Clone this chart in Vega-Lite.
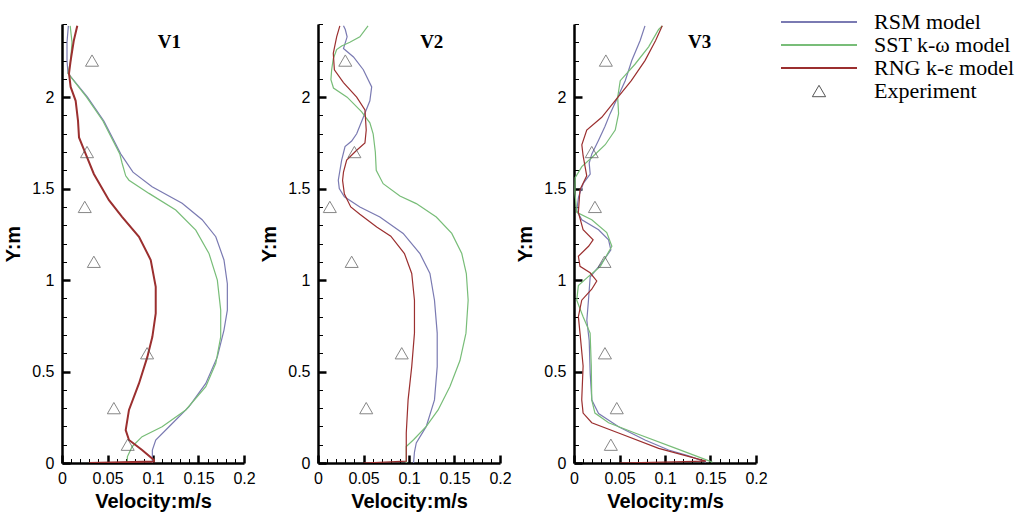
{
  "$schema": "https://vega.github.io/schema/vega-lite/v6.json",
  "background": "white",
  "padding": {"left": 3, "top": 12, "right": 5, "bottom": 5},
  "spacing": 3,
  "config": {"view": {"stroke": null}, "axis": {"grid": false}},
  "datasets": {
    "curves": [
      {"panel":"V1","model":"RSM model","x":0.0993,"y":0},
      {"panel":"V1","model":"RSM model","x":0.0993,"y":0.071},
      {"panel":"V1","model":"RSM model","x":0.103,"y":0.126},
      {"panel":"V1","model":"RSM model","x":0.1176,"y":0.198},
      {"panel":"V1","model":"RSM model","x":0.1396,"y":0.308},
      {"panel":"V1","model":"RSM model","x":0.158,"y":0.435},
      {"panel":"V1","model":"RSM model","x":0.1707,"y":0.58},
      {"panel":"V1","model":"RSM model","x":0.178,"y":0.727},
      {"panel":"V1","model":"RSM model","x":0.1817,"y":0.836},
      {"panel":"V1","model":"RSM model","x":0.1817,"y":0.98},
      {"panel":"V1","model":"RSM model","x":0.178,"y":1.11},
      {"panel":"V1","model":"RSM model","x":0.169,"y":1.237},
      {"panel":"V1","model":"RSM model","x":0.154,"y":1.33},
      {"panel":"V1","model":"RSM model","x":0.132,"y":1.42},
      {"panel":"V1","model":"RSM model","x":0.099,"y":1.51},
      {"panel":"V1","model":"RSM model","x":0.078,"y":1.59},
      {"panel":"V1","model":"RSM model","x":0.0645,"y":1.69},
      {"panel":"V1","model":"RSM model","x":0.046,"y":1.87},
      {"panel":"V1","model":"RSM model","x":0.028,"y":2.0},
      {"panel":"V1","model":"RSM model","x":0.0066,"y":2.13},
      {"panel":"V1","model":"RSM model","x":0.0055,"y":2.2},
      {"panel":"V1","model":"RSM model","x":0.0055,"y":2.3},
      {"panel":"V1","model":"RSM model","x":0.007,"y":2.39},
      {"panel":"V1","model":"SST k-ω model","x":0.0718,"y":0},
      {"panel":"V1","model":"SST k-ω model","x":0.0718,"y":0.034},
      {"panel":"V1","model":"SST k-ω model","x":0.077,"y":0.089},
      {"panel":"V1","model":"SST k-ω model","x":0.088,"y":0.144},
      {"panel":"V1","model":"SST k-ω model","x":0.11,"y":0.198},
      {"panel":"V1","model":"SST k-ω model","x":0.136,"y":0.29},
      {"panel":"V1","model":"SST k-ω model","x":0.158,"y":0.417},
      {"panel":"V1","model":"SST k-ω model","x":0.169,"y":0.545},
      {"panel":"V1","model":"SST k-ω model","x":0.1744,"y":0.69},
      {"panel":"V1","model":"SST k-ω model","x":0.1744,"y":0.836},
      {"panel":"V1","model":"SST k-ω model","x":0.1707,"y":1.0},
      {"panel":"V1","model":"SST k-ω model","x":0.1615,"y":1.146},
      {"panel":"V1","model":"SST k-ω model","x":0.147,"y":1.273},
      {"panel":"V1","model":"SST k-ω model","x":0.125,"y":1.383},
      {"panel":"V1","model":"SST k-ω model","x":0.0956,"y":1.474},
      {"panel":"V1","model":"SST k-ω model","x":0.0736,"y":1.546},
      {"panel":"V1","model":"SST k-ω model","x":0.07,"y":1.57},
      {"panel":"V1","model":"SST k-ω model","x":0.066,"y":1.64},
      {"panel":"V1","model":"SST k-ω model","x":0.0635,"y":1.69},
      {"panel":"V1","model":"SST k-ω model","x":0.045,"y":1.87},
      {"panel":"V1","model":"SST k-ω model","x":0.027,"y":2.0},
      {"panel":"V1","model":"SST k-ω model","x":0.0066,"y":2.13},
      {"panel":"V1","model":"SST k-ω model","x":0.0095,"y":2.2},
      {"panel":"V1","model":"SST k-ω model","x":0.011,"y":2.3},
      {"panel":"V1","model":"SST k-ω model","x":0.009,"y":2.39},
      {"panel":"V1","model":"RNG k-ε model","x":0.03,"y":0},
      {"panel":"V1","model":"RNG k-ε model","x":0.101,"y":0.008},
      {"panel":"V1","model":"RNG k-ε model","x":0.101,"y":0.016},
      {"panel":"V1","model":"RNG k-ε model","x":0.088,"y":0.071},
      {"panel":"V1","model":"RNG k-ε model","x":0.0736,"y":0.126},
      {"panel":"V1","model":"RNG k-ε model","x":0.07,"y":0.18},
      {"panel":"V1","model":"RNG k-ε model","x":0.0736,"y":0.29},
      {"panel":"V1","model":"RNG k-ε model","x":0.0846,"y":0.435},
      {"panel":"V1","model":"RNG k-ε model","x":0.0938,"y":0.58},
      {"panel":"V1","model":"RNG k-ε model","x":0.0993,"y":0.69},
      {"panel":"V1","model":"RNG k-ε model","x":0.103,"y":0.818},
      {"panel":"V1","model":"RNG k-ε model","x":0.103,"y":0.963},
      {"panel":"V1","model":"RNG k-ε model","x":0.0975,"y":1.11},
      {"panel":"V1","model":"RNG k-ε model","x":0.0846,"y":1.237},
      {"panel":"V1","model":"RNG k-ε model","x":0.066,"y":1.346},
      {"panel":"V1","model":"RNG k-ε model","x":0.0516,"y":1.437},
      {"panel":"V1","model":"RNG k-ε model","x":0.035,"y":1.58},
      {"panel":"V1","model":"RNG k-ε model","x":0.026,"y":1.69},
      {"panel":"V1","model":"RNG k-ε model","x":0.0187,"y":1.78},
      {"panel":"V1","model":"RNG k-ε model","x":0.0176,"y":1.87},
      {"panel":"V1","model":"RNG k-ε model","x":0.015,"y":1.98},
      {"panel":"V1","model":"RNG k-ε model","x":0.0095,"y":2.056},
      {"panel":"V1","model":"RNG k-ε model","x":0.0077,"y":2.13},
      {"panel":"V1","model":"RNG k-ε model","x":0.0095,"y":2.2},
      {"panel":"V1","model":"RNG k-ε model","x":0.013,"y":2.31},
      {"panel":"V1","model":"RNG k-ε model","x":0.0168,"y":2.39},

      {"panel":"V2","model":"RSM model","x":0.105,"y":0},
      {"panel":"V2","model":"RSM model","x":0.106,"y":0.06},
      {"panel":"V2","model":"RSM model","x":0.108,"y":0.11},
      {"panel":"V2","model":"RSM model","x":0.119,"y":0.2},
      {"panel":"V2","model":"RSM model","x":0.128,"y":0.345},
      {"panel":"V2","model":"RSM model","x":0.131,"y":0.527},
      {"panel":"V2","model":"RSM model","x":0.131,"y":0.71},
      {"panel":"V2","model":"RSM model","x":0.128,"y":0.89},
      {"panel":"V2","model":"RSM model","x":0.123,"y":1.036},
      {"panel":"V2","model":"RSM model","x":0.112,"y":1.145},
      {"panel":"V2","model":"RSM model","x":0.0936,"y":1.255},
      {"panel":"V2","model":"RSM model","x":0.068,"y":1.345},
      {"panel":"V2","model":"RSM model","x":0.046,"y":1.4},
      {"panel":"V2","model":"RSM model","x":0.029,"y":1.455},
      {"panel":"V2","model":"RSM model","x":0.0234,"y":1.5},
      {"panel":"V2","model":"RSM model","x":0.0223,"y":1.546},
      {"panel":"V2","model":"RSM model","x":0.026,"y":1.656},
      {"panel":"V2","model":"RSM model","x":0.0297,"y":1.73},
      {"panel":"V2","model":"RSM model","x":0.037,"y":1.76},
      {"panel":"V2","model":"RSM model","x":0.0425,"y":1.8},
      {"panel":"V2","model":"RSM model","x":0.0498,"y":1.89},
      {"panel":"V2","model":"RSM model","x":0.057,"y":1.98},
      {"panel":"V2","model":"RSM model","x":0.059,"y":2.056},
      {"panel":"V2","model":"RSM model","x":0.0498,"y":2.15},
      {"panel":"V2","model":"RSM model","x":0.039,"y":2.22},
      {"panel":"V2","model":"RSM model","x":0.028,"y":2.266},
      {"panel":"V2","model":"RSM model","x":0.032,"y":2.33},
      {"panel":"V2","model":"RSM model","x":0.03,"y":2.37},
      {"panel":"V2","model":"RSM model","x":0.028,"y":2.39},
      {"panel":"V2","model":"SST k-ω model","x":0.097,"y":0},
      {"panel":"V2","model":"SST k-ω model","x":0.097,"y":0.09},
      {"panel":"V2","model":"SST k-ω model","x":0.105,"y":0.127},
      {"panel":"V2","model":"SST k-ω model","x":0.119,"y":0.2},
      {"panel":"V2","model":"SST k-ω model","x":0.132,"y":0.29},
      {"panel":"V2","model":"SST k-ω model","x":0.145,"y":0.418},
      {"panel":"V2","model":"SST k-ω model","x":0.156,"y":0.56},
      {"panel":"V2","model":"SST k-ω model","x":0.1626,"y":0.71},
      {"panel":"V2","model":"SST k-ω model","x":0.165,"y":0.89},
      {"panel":"V2","model":"SST k-ω model","x":0.163,"y":1.036},
      {"panel":"V2","model":"SST k-ω model","x":0.158,"y":1.145},
      {"panel":"V2","model":"SST k-ω model","x":0.147,"y":1.255},
      {"panel":"V2","model":"SST k-ω model","x":0.13,"y":1.345},
      {"panel":"V2","model":"SST k-ω model","x":0.108,"y":1.418},
      {"panel":"V2","model":"SST k-ω model","x":0.09,"y":1.46},
      {"panel":"V2","model":"SST k-ω model","x":0.0716,"y":1.527},
      {"panel":"V2","model":"SST k-ω model","x":0.064,"y":1.6},
      {"panel":"V2","model":"SST k-ω model","x":0.063,"y":1.7},
      {"panel":"V2","model":"SST k-ω model","x":0.0606,"y":1.8},
      {"panel":"V2","model":"SST k-ω model","x":0.057,"y":1.86},
      {"panel":"V2","model":"SST k-ω model","x":0.048,"y":1.92},
      {"panel":"V2","model":"SST k-ω model","x":0.032,"y":2.0},
      {"panel":"V2","model":"SST k-ω model","x":0.017,"y":2.05},
      {"panel":"V2","model":"SST k-ω model","x":0.0142,"y":2.095},
      {"panel":"V2","model":"SST k-ω model","x":0.015,"y":2.15},
      {"panel":"V2","model":"SST k-ω model","x":0.0168,"y":2.21},
      {"panel":"V2","model":"SST k-ω model","x":0.0205,"y":2.26},
      {"panel":"V2","model":"SST k-ω model","x":0.026,"y":2.28},
      {"panel":"V2","model":"SST k-ω model","x":0.035,"y":2.3},
      {"panel":"V2","model":"SST k-ω model","x":0.046,"y":2.33},
      {"panel":"V2","model":"SST k-ω model","x":0.055,"y":2.39},
      {"panel":"V2","model":"RNG k-ε model","x":0.05,"y":0},
      {"panel":"V2","model":"RNG k-ε model","x":0.097,"y":0.01},
      {"panel":"V2","model":"RNG k-ε model","x":0.097,"y":0.164},
      {"panel":"V2","model":"RNG k-ε model","x":0.099,"y":0.345},
      {"panel":"V2","model":"RNG k-ε model","x":0.103,"y":0.527},
      {"panel":"V2","model":"RNG k-ε model","x":0.106,"y":0.71},
      {"panel":"V2","model":"RNG k-ε model","x":0.106,"y":0.89},
      {"panel":"V2","model":"RNG k-ε model","x":0.103,"y":1.036},
      {"panel":"V2","model":"RNG k-ε model","x":0.095,"y":1.145},
      {"panel":"V2","model":"RNG k-ε model","x":0.08,"y":1.24},
      {"panel":"V2","model":"RNG k-ε model","x":0.0645,"y":1.29},
      {"panel":"V2","model":"RNG k-ε model","x":0.046,"y":1.36},
      {"panel":"V2","model":"RNG k-ε model","x":0.036,"y":1.4},
      {"panel":"V2","model":"RNG k-ε model","x":0.029,"y":1.47},
      {"panel":"V2","model":"RNG k-ε model","x":0.027,"y":1.545},
      {"panel":"V2","model":"RNG k-ε model","x":0.028,"y":1.59},
      {"panel":"V2","model":"RNG k-ε model","x":0.0315,"y":1.656},
      {"panel":"V2","model":"RNG k-ε model","x":0.0425,"y":1.71},
      {"panel":"V2","model":"RNG k-ε model","x":0.0516,"y":1.75},
      {"panel":"V2","model":"RNG k-ε model","x":0.053,"y":1.82},
      {"panel":"V2","model":"RNG k-ε model","x":0.0516,"y":1.93},
      {"panel":"V2","model":"RNG k-ε model","x":0.0425,"y":2.0},
      {"panel":"V2","model":"RNG k-ε model","x":0.028,"y":2.08},
      {"panel":"V2","model":"RNG k-ε model","x":0.018,"y":2.15},
      {"panel":"V2","model":"RNG k-ε model","x":0.0168,"y":2.24},
      {"panel":"V2","model":"RNG k-ε model","x":0.0205,"y":2.33},
      {"panel":"V2","model":"RNG k-ε model","x":0.024,"y":2.39},

      {"panel":"V3","model":"RSM model","x":0.145,"y":0.005},
      {"panel":"V3","model":"RSM model","x":0.125,"y":0.04},
      {"panel":"V3","model":"RSM model","x":0.104,"y":0.071},
      {"panel":"V3","model":"RSM model","x":0.078,"y":0.126},
      {"panel":"V3","model":"RSM model","x":0.049,"y":0.198},
      {"panel":"V3","model":"RSM model","x":0.027,"y":0.27},
      {"panel":"V3","model":"RSM model","x":0.0196,"y":0.344},
      {"panel":"V3","model":"RSM model","x":0.0178,"y":0.49},
      {"panel":"V3","model":"RSM model","x":0.0167,"y":0.67},
      {"panel":"V3","model":"RSM model","x":0.0141,"y":0.78},
      {"panel":"V3","model":"RSM model","x":0.0159,"y":0.89},
      {"panel":"V3","model":"RSM model","x":0.0178,"y":1.018},
      {"panel":"V3","model":"RSM model","x":0.03,"y":1.09},
      {"panel":"V3","model":"RSM model","x":0.0405,"y":1.165},
      {"panel":"V3","model":"RSM model","x":0.038,"y":1.22},
      {"panel":"V3","model":"RSM model","x":0.027,"y":1.275},
      {"panel":"V3","model":"RSM model","x":0.0086,"y":1.33},
      {"panel":"V3","model":"RSM model","x":0.003,"y":1.38},
      {"panel":"V3","model":"RSM model","x":0.005,"y":1.455},
      {"panel":"V3","model":"RSM model","x":0.0104,"y":1.53},
      {"panel":"V3","model":"RSM model","x":0.0178,"y":1.58},
      {"panel":"V3","model":"RSM model","x":0.0167,"y":1.64},
      {"panel":"V3","model":"RSM model","x":0.0196,"y":1.69},
      {"panel":"V3","model":"RSM model","x":0.027,"y":1.765},
      {"panel":"V3","model":"RSM model","x":0.034,"y":1.84},
      {"panel":"V3","model":"RSM model","x":0.0397,"y":1.91},
      {"panel":"V3","model":"RSM model","x":0.048,"y":2.0},
      {"panel":"V3","model":"RSM model","x":0.0563,"y":2.09},
      {"panel":"V3","model":"RSM model","x":0.0635,"y":2.2},
      {"panel":"V3","model":"RSM model","x":0.0727,"y":2.31},
      {"panel":"V3","model":"RSM model","x":0.078,"y":2.39},
      {"panel":"V3","model":"SST k-ω model","x":0.152,"y":0.005},
      {"panel":"V3","model":"SST k-ω model","x":0.112,"y":0.08},
      {"panel":"V3","model":"SST k-ω model","x":0.067,"y":0.164},
      {"panel":"V3","model":"SST k-ω model","x":0.038,"y":0.22},
      {"panel":"V3","model":"SST k-ω model","x":0.023,"y":0.273},
      {"panel":"V3","model":"SST k-ω model","x":0.0195,"y":0.345},
      {"panel":"V3","model":"SST k-ω model","x":0.019,"y":0.53},
      {"panel":"V3","model":"SST k-ω model","x":0.0177,"y":0.71},
      {"panel":"V3","model":"SST k-ω model","x":0.01,"y":0.8},
      {"panel":"V3","model":"SST k-ω model","x":0.003,"y":0.89},
      {"panel":"V3","model":"SST k-ω model","x":0.0048,"y":0.97},
      {"panel":"V3","model":"SST k-ω model","x":0.016,"y":1.02},
      {"panel":"V3","model":"SST k-ω model","x":0.029,"y":1.075},
      {"panel":"V3","model":"SST k-ω model","x":0.0416,"y":1.185},
      {"panel":"V3","model":"SST k-ω model","x":0.036,"y":1.26},
      {"panel":"V3","model":"SST k-ω model","x":0.0195,"y":1.33},
      {"panel":"V3","model":"SST k-ω model","x":0.003,"y":1.37},
      {"panel":"V3","model":"SST k-ω model","x":0.001,"y":1.48},
      {"panel":"V3","model":"SST k-ω model","x":0.0013,"y":1.56},
      {"panel":"V3","model":"SST k-ω model","x":0.0086,"y":1.62},
      {"panel":"V3","model":"SST k-ω model","x":0.0196,"y":1.67},
      {"panel":"V3","model":"SST k-ω model","x":0.0343,"y":1.74},
      {"panel":"V3","model":"SST k-ω model","x":0.0453,"y":1.82},
      {"panel":"V3","model":"SST k-ω model","x":0.049,"y":1.91},
      {"panel":"V3","model":"SST k-ω model","x":0.048,"y":2.0},
      {"panel":"V3","model":"SST k-ω model","x":0.0508,"y":2.09},
      {"panel":"V3","model":"SST k-ω model","x":0.067,"y":2.18},
      {"panel":"V3","model":"SST k-ω model","x":0.082,"y":2.275},
      {"panel":"V3","model":"SST k-ω model","x":0.093,"y":2.37},
      {"panel":"V3","model":"SST k-ω model","x":0.097,"y":2.39},
      {"panel":"V3","model":"RNG k-ε model","x":0.05,"y":0},
      {"panel":"V3","model":"RNG k-ε model","x":0.145,"y":0.01},
      {"panel":"V3","model":"RNG k-ε model","x":0.093,"y":0.08},
      {"panel":"V3","model":"RNG k-ε model","x":0.049,"y":0.164},
      {"panel":"V3","model":"RNG k-ε model","x":0.0195,"y":0.22},
      {"panel":"V3","model":"RNG k-ε model","x":0.01,"y":0.273},
      {"panel":"V3","model":"RNG k-ε model","x":0.0085,"y":0.345},
      {"panel":"V3","model":"RNG k-ε model","x":0.01,"y":0.53},
      {"panel":"V3","model":"RNG k-ε model","x":0.0066,"y":0.71},
      {"panel":"V3","model":"RNG k-ε model","x":0.0048,"y":0.8},
      {"panel":"V3","model":"RNG k-ε model","x":0.0085,"y":0.89},
      {"panel":"V3","model":"RNG k-ε model","x":0.0195,"y":0.95},
      {"panel":"V3","model":"RNG k-ε model","x":0.025,"y":0.995},
      {"panel":"V3","model":"RNG k-ε model","x":0.0177,"y":1.04},
      {"panel":"V3","model":"RNG k-ε model","x":0.0066,"y":1.075},
      {"panel":"V3","model":"RNG k-ε model","x":0.0048,"y":1.13},
      {"panel":"V3","model":"RNG k-ε model","x":0.016,"y":1.185},
      {"panel":"V3","model":"RNG k-ε model","x":0.021,"y":1.22},
      {"panel":"V3","model":"RNG k-ε model","x":0.01,"y":1.275},
      {"panel":"V3","model":"RNG k-ε model","x":0.0048,"y":1.37},
      {"panel":"V3","model":"RNG k-ε model","x":0.0066,"y":1.495},
      {"panel":"V3","model":"RNG k-ε model","x":0.014,"y":1.57},
      {"panel":"V3","model":"RNG k-ε model","x":0.01,"y":1.68},
      {"panel":"V3","model":"RNG k-ε model","x":0.0086,"y":1.74},
      {"panel":"V3","model":"RNG k-ε model","x":0.014,"y":1.82},
      {"panel":"V3","model":"RNG k-ε model","x":0.0305,"y":1.89},
      {"panel":"V3","model":"RNG k-ε model","x":0.045,"y":1.98},
      {"panel":"V3","model":"RNG k-ε model","x":0.063,"y":2.09},
      {"panel":"V3","model":"RNG k-ε model","x":0.078,"y":2.2},
      {"panel":"V3","model":"RNG k-ε model","x":0.0897,"y":2.31},
      {"panel":"V3","model":"RNG k-ε model","x":0.097,"y":2.39}
    ],
    "exp": [
      {"panel":"V1","model":"Experiment","x":0.033,"y":2.2},
      {"panel":"V1","model":"Experiment","x":0.0275,"y":1.7},
      {"panel":"V1","model":"Experiment","x":0.025,"y":1.4},
      {"panel":"V1","model":"Experiment","x":0.035,"y":1.1},
      {"panel":"V1","model":"Experiment","x":0.0935,"y":0.6},
      {"panel":"V1","model":"Experiment","x":0.057,"y":0.3},
      {"panel":"V1","model":"Experiment","x":0.0722,"y":0.1},
      {"panel":"V2","model":"Experiment","x":0.03,"y":2.2},
      {"panel":"V2","model":"Experiment","x":0.04,"y":1.7},
      {"panel":"V2","model":"Experiment","x":0.013,"y":1.4},
      {"panel":"V2","model":"Experiment","x":0.037,"y":1.1},
      {"panel":"V2","model":"Experiment","x":0.092,"y":0.6},
      {"panel":"V2","model":"Experiment","x":0.053,"y":0.3},
      {"panel":"V3","model":"Experiment","x":0.035,"y":2.2},
      {"panel":"V3","model":"Experiment","x":0.0195,"y":1.7},
      {"panel":"V3","model":"Experiment","x":0.023,"y":1.4},
      {"panel":"V3","model":"Experiment","x":0.0335,"y":1.1},
      {"panel":"V3","model":"Experiment","x":0.034,"y":0.6},
      {"panel":"V3","model":"Experiment","x":0.047,"y":0.3},
      {"panel":"V3","model":"Experiment","x":0.0405,"y":0.1}
    ],
    "labels": [
      {"panel":"V1","x":0.118,"y":2.3,"text":"V1"},
      {"panel":"V2","x":0.125,"y":2.3,"text":"V2"},
      {"panel":"V3","x":0.138,"y":2.3,"text":"V3"}
    ]
  },
  "hconcat": [
    {
      "width": 182, "height": 439,
      "layer": [
        {
          "data": {"name": "curves"},
          "transform": [{"filter": "datum.panel === 'V1'"}],
          "mark": {"type": "line", "clip": true},
          "encoding": {
            "x": {"field": "x", "type": "quantitative", "scale": {"domain": [0, 0.2], "nice": false},
              "axis": {"orient": "bottom", "values": [0, 0.05, 0.1, 0.15, 0.2], "format": "~g", "tickSize": -8, "tickWidth": 2.5, "tickColor": "black", "domainWidth": 2.5, "domainColor": "black", "labelPadding": 15, "labelFont": "Liberation Sans", "labelFontSize": 16, "labelColor": "black", "labelFlush": false, "labelOverlap": false, "title": "Velocity:m/s", "titleFont": "Liberation Sans", "titleFontSize": 20, "titleFontWeight": "bold", "titleColor": "black", "titlePadding": 5, "grid": false}},
            "y": {"field": "y", "type": "quantitative", "scale": {"domain": [0, 2.4], "nice": false},
              "axis": {"orient": "left", "values": [0, 0.5, 1, 1.5, 2], "format": "~g", "tickSize": -8, "tickWidth": 2.5, "tickColor": "black", "domainWidth": 2.5, "domainColor": "black", "labelPadding": 16, "labelFont": "Liberation Sans", "labelFontSize": 16, "labelColor": "black", "labelFlush": false, "labelOverlap": false, "title": "Y:m", "titleFont": "Liberation Sans", "titleFontSize": 20, "titleFontWeight": "bold", "titleColor": "black", "titlePadding": 8, "grid": false}},
            "stroke": {"field": "model", "type": "nominal",
              "scale": {"domain": ["RSM model", "SST k-ω model", "RNG k-ε model", "Experiment"], "range": ["#7a7ab2", "#78bd78", "#9b2f2f", "#555555"]},
              "legend": {"orient": "none", "legendX": 718, "legendY": -12, "title": null, "direction": "vertical", "columns": 1, "symbolType": "stroke", "symbolSize": 5776, "symbolStrokeWidth": 2, "clipHeight": 20, "rowPadding": 1, "labelOffset": 16, "labelFont": "Liberation Serif", "labelFontSize": 22, "labelColor": "black", "labelLimit": 300,
                "encode": {"symbols": {"update": {
                  "shape": {"signal": "(datum.value === 'Experiment' ? 'M0,-0.15L0.175,0.15L-0.175,0.15Z' : 'stroke')"},
                  "strokeWidth": {"signal": "(datum.value === 'Experiment' ? 1 : 2)"},
                  "fill": {"value": "transparent"}
                }}}}},
            "strokeWidth": {"condition": {"test": "datum.model === 'RNG k-ε model'", "value": 2}, "value": 1.2},
            "order": {"field": "y", "type": "quantitative"}
          }
        },
        {
          "data": {"name": "exp"},
          "transform": [{"filter": "datum.panel === 'V1'"}],
          "mark": {"type": "point", "shape": "triangle-up", "filled": false, "size": 170, "strokeWidth": 1},
          "encoding": {
            "x": {"field": "x", "type": "quantitative", "axis": {"orient": "bottom", "values": [0.01,0.02,0.03,0.04,0.06,0.07,0.08,0.09,0.11,0.12,0.13,0.14,0.16,0.17,0.18,0.19], "tickSize": -4.5, "tickWidth": 1, "tickColor": "black", "labels": false, "domain": false, "title": null, "grid": false}},
            "y": {"field": "y", "type": "quantitative", "axis": {"orient": "left", "values": [0.1,0.2,0.3,0.4,0.6,0.7,0.8,0.9,1.1,1.2,1.3,1.4,1.6,1.7,1.8,1.9,2.1,2.2,2.3,2.4], "tickSize": -4.5, "tickWidth": 1, "tickColor": "black", "labels": false, "domain": false, "title": null, "grid": false}},
            "stroke": {"field": "model", "type": "nominal", "scale": {"domain": ["RSM model", "SST k-ω model", "RNG k-ε model", "Experiment"], "range": ["#7a7ab2", "#78bd78", "#9b2f2f", "#555555"]}, "legend": null}
          }
        },
        {
          "data": {"name": "labels"},
          "transform": [{"filter": "datum.panel === 'V1'"}],
          "mark": {"type": "text", "font": "Liberation Serif", "fontWeight": "bold", "fontSize": 19, "color": "black"},
          "encoding": {
            "x": {"field": "x", "type": "quantitative", "axis": null},
            "y": {"field": "y", "type": "quantitative", "axis": null},
            "text": {"field": "text"}
          }
        }
      ],
      "resolve": {"axis": {"x": "independent", "y": "independent"}}
    },
    {
      "width": 182, "height": 439,
      "layer": [
        {
          "data": {"name": "curves"},
          "transform": [{"filter": "datum.panel === 'V2'"}],
          "mark": {"type": "line", "clip": true},
          "encoding": {
            "x": {"field": "x", "type": "quantitative", "scale": {"domain": [0, 0.2], "nice": false},
              "axis": {"orient": "bottom", "values": [0, 0.05, 0.1, 0.15, 0.2], "format": "~g", "tickSize": -8, "tickWidth": 2.5, "tickColor": "black", "domainWidth": 2.5, "domainColor": "black", "labelPadding": 15, "labelFont": "Liberation Sans", "labelFontSize": 16, "labelColor": "black", "labelFlush": false, "labelOverlap": false, "title": "Velocity:m/s", "titleFont": "Liberation Sans", "titleFontSize": 20, "titleFontWeight": "bold", "titleColor": "black", "titlePadding": 5, "grid": false}},
            "y": {"field": "y", "type": "quantitative", "scale": {"domain": [0, 2.4], "nice": false},
              "axis": {"orient": "left", "values": [0, 0.5, 1, 1.5, 2], "format": "~g", "tickSize": -8, "tickWidth": 2.5, "tickColor": "black", "domainWidth": 2.5, "domainColor": "black", "labelPadding": 16, "labelFont": "Liberation Sans", "labelFontSize": 16, "labelColor": "black", "labelFlush": false, "labelOverlap": false, "title": "Y:m", "titleFont": "Liberation Sans", "titleFontSize": 20, "titleFontWeight": "bold", "titleColor": "black", "titlePadding": 8, "grid": false}},
            "stroke": {"field": "model", "type": "nominal",
              "scale": {"domain": ["RSM model", "SST k-ω model", "RNG k-ε model", "Experiment"], "range": ["#7a7ab2", "#78bd78", "#9b2f2f", "#555555"]},
              "legend": {"orient": "none", "legendX": 718, "legendY": -12, "title": null, "direction": "vertical", "columns": 1, "symbolType": "stroke", "symbolSize": 5776, "symbolStrokeWidth": 2, "clipHeight": 20, "rowPadding": 1, "labelOffset": 16, "labelFont": "Liberation Serif", "labelFontSize": 22, "labelColor": "black", "labelLimit": 300,
                "encode": {"symbols": {"update": {
                  "shape": {"signal": "(datum.value === 'Experiment' ? 'M0,-0.15L0.175,0.15L-0.175,0.15Z' : 'stroke')"},
                  "strokeWidth": {"signal": "(datum.value === 'Experiment' ? 1 : 2)"},
                  "fill": {"value": "transparent"}
                }}}}},
            "strokeWidth": {"value": 1.2},
            "order": {"field": "y", "type": "quantitative"}
          }
        },
        {
          "data": {"name": "exp"},
          "transform": [{"filter": "datum.panel === 'V2'"}],
          "mark": {"type": "point", "shape": "triangle-up", "filled": false, "size": 170, "strokeWidth": 1},
          "encoding": {
            "x": {"field": "x", "type": "quantitative", "axis": {"orient": "bottom", "values": [0.01,0.02,0.03,0.04,0.06,0.07,0.08,0.09,0.11,0.12,0.13,0.14,0.16,0.17,0.18,0.19], "tickSize": -4.5, "tickWidth": 1, "tickColor": "black", "labels": false, "domain": false, "title": null, "grid": false}},
            "y": {"field": "y", "type": "quantitative", "axis": {"orient": "left", "values": [0.1,0.2,0.3,0.4,0.6,0.7,0.8,0.9,1.1,1.2,1.3,1.4,1.6,1.7,1.8,1.9,2.1,2.2,2.3,2.4], "tickSize": -4.5, "tickWidth": 1, "tickColor": "black", "labels": false, "domain": false, "title": null, "grid": false}},
            "stroke": {"field": "model", "type": "nominal", "scale": {"domain": ["RSM model", "SST k-ω model", "RNG k-ε model", "Experiment"], "range": ["#7a7ab2", "#78bd78", "#9b2f2f", "#555555"]}, "legend": null}
          }
        },
        {
          "data": {"name": "labels"},
          "transform": [{"filter": "datum.panel === 'V2'"}],
          "mark": {"type": "text", "font": "Liberation Serif", "fontWeight": "bold", "fontSize": 19, "color": "black"},
          "encoding": {
            "x": {"field": "x", "type": "quantitative", "axis": null},
            "y": {"field": "y", "type": "quantitative", "axis": null},
            "text": {"field": "text"}
          }
        }
      ],
      "resolve": {"axis": {"x": "independent", "y": "independent"}}
    },
    {
      "width": 182, "height": 439,
      "layer": [
        {
          "data": {"name": "curves"},
          "transform": [{"filter": "datum.panel === 'V3'"}],
          "mark": {"type": "line", "clip": true},
          "encoding": {
            "x": {"field": "x", "type": "quantitative", "scale": {"domain": [0, 0.2], "nice": false},
              "axis": {"orient": "bottom", "values": [0, 0.05, 0.1, 0.15, 0.2], "format": "~g", "tickSize": -8, "tickWidth": 2.5, "tickColor": "black", "domainWidth": 2.5, "domainColor": "black", "labelPadding": 15, "labelFont": "Liberation Sans", "labelFontSize": 16, "labelColor": "black", "labelFlush": false, "labelOverlap": false, "title": "Velocity:m/s", "titleFont": "Liberation Sans", "titleFontSize": 20, "titleFontWeight": "bold", "titleColor": "black", "titlePadding": 5, "grid": false}},
            "y": {"field": "y", "type": "quantitative", "scale": {"domain": [0, 2.4], "nice": false},
              "axis": {"orient": "left", "values": [0, 0.5, 1, 1.5, 2], "format": "~g", "tickSize": -8, "tickWidth": 2.5, "tickColor": "black", "domainWidth": 2.5, "domainColor": "black", "labelPadding": 16, "labelFont": "Liberation Sans", "labelFontSize": 16, "labelColor": "black", "labelFlush": false, "labelOverlap": false, "title": "Y:m", "titleFont": "Liberation Sans", "titleFontSize": 20, "titleFontWeight": "bold", "titleColor": "black", "titlePadding": 8, "grid": false}},
            "stroke": {"field": "model", "type": "nominal",
              "scale": {"domain": ["RSM model", "SST k-ω model", "RNG k-ε model", "Experiment"], "range": ["#7a7ab2", "#78bd78", "#9b2f2f", "#555555"]},
              "legend": {"orient": "none", "legendX": 718, "legendY": -12, "title": null, "direction": "vertical", "columns": 1, "symbolType": "stroke", "symbolSize": 5776, "symbolStrokeWidth": 2, "clipHeight": 20, "rowPadding": 1, "labelOffset": 16, "labelFont": "Liberation Serif", "labelFontSize": 22, "labelColor": "black", "labelLimit": 300,
                "encode": {"symbols": {"update": {
                  "shape": {"signal": "(datum.value === 'Experiment' ? 'M0,-0.15L0.175,0.15L-0.175,0.15Z' : 'stroke')"},
                  "strokeWidth": {"signal": "(datum.value === 'Experiment' ? 1 : 2)"},
                  "fill": {"value": "transparent"}
                }}}}},
            "strokeWidth": {"value": 1.2},
            "order": {"field": "y", "type": "quantitative"}
          }
        },
        {
          "data": {"name": "exp"},
          "transform": [{"filter": "datum.panel === 'V3'"}],
          "mark": {"type": "point", "shape": "triangle-up", "filled": false, "size": 170, "strokeWidth": 1},
          "encoding": {
            "x": {"field": "x", "type": "quantitative", "axis": {"orient": "bottom", "values": [0.01,0.02,0.03,0.04,0.06,0.07,0.08,0.09,0.11,0.12,0.13,0.14,0.16,0.17,0.18,0.19], "tickSize": -4.5, "tickWidth": 1, "tickColor": "black", "labels": false, "domain": false, "title": null, "grid": false}},
            "y": {"field": "y", "type": "quantitative", "axis": {"orient": "left", "values": [0.1,0.2,0.3,0.4,0.6,0.7,0.8,0.9,1.1,1.2,1.3,1.4,1.6,1.7,1.8,1.9,2.1,2.2,2.3,2.4], "tickSize": -4.5, "tickWidth": 1, "tickColor": "black", "labels": false, "domain": false, "title": null, "grid": false}},
            "stroke": {"field": "model", "type": "nominal", "scale": {"domain": ["RSM model", "SST k-ω model", "RNG k-ε model", "Experiment"], "range": ["#7a7ab2", "#78bd78", "#9b2f2f", "#555555"]}, "legend": null}
          }
        },
        {
          "data": {"name": "labels"},
          "transform": [{"filter": "datum.panel === 'V3'"}],
          "mark": {"type": "text", "font": "Liberation Serif", "fontWeight": "bold", "fontSize": 19, "color": "black"},
          "encoding": {
            "x": {"field": "x", "type": "quantitative", "axis": null},
            "y": {"field": "y", "type": "quantitative", "axis": null},
            "text": {"field": "text"}
          }
        }
      ],
      "resolve": {"axis": {"x": "independent", "y": "independent"}}
    }
  ]
}
